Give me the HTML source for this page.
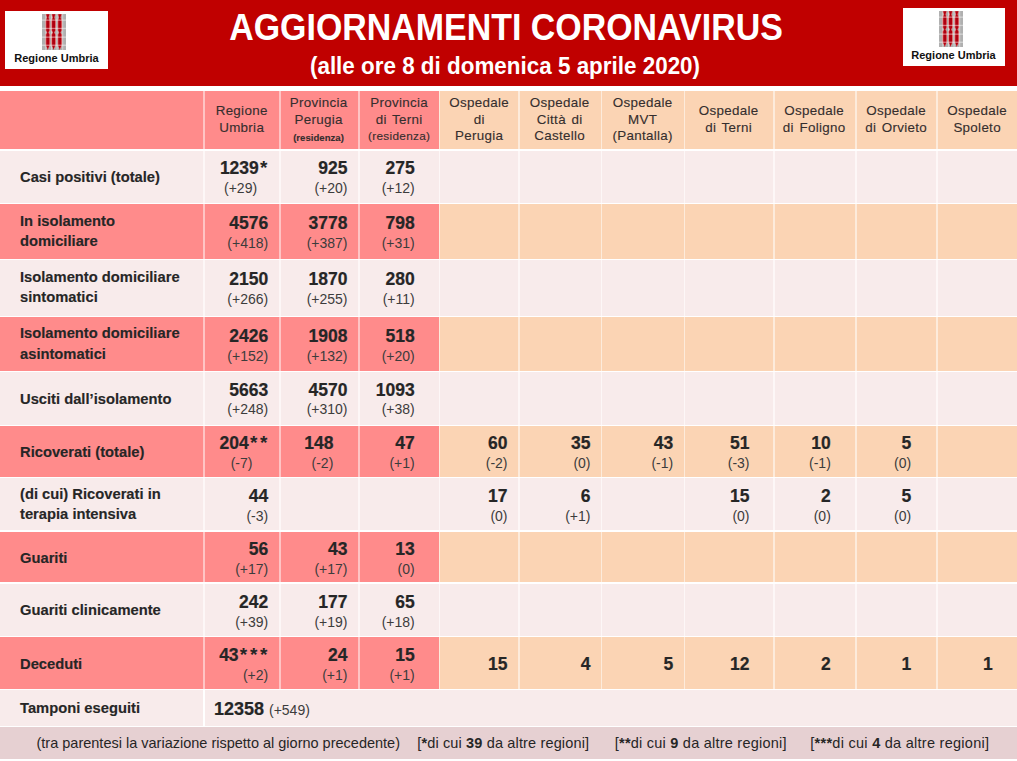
<!DOCTYPE html>
<html><head><meta charset="utf-8"><style>
html,body{margin:0;padding:0;}
body{width:1017px;height:761px;position:relative;overflow:hidden;background:#FFFFFF;font-family:"Liberation Sans",sans-serif;}
.r{position:absolute;}
.t{position:absolute;white-space:nowrap;}
.ast{font-size:21px;letter-spacing:1.6px;position:relative;top:1.5px;}
</style></head><body>
<div class="r" style="left:0px;top:0px;width:1017px;height:86px;background:#C00000"></div>
<div class="r" style="left:5px;top:11px;width:103px;height:58px;background:#FFFFFF"></div>
<svg width="24" height="36" viewBox="0 0 24 36" style="position:absolute;left:42px;top:14px"><rect x="0" y="0" width="24" height="36" fill="#B0B0B0"/><rect x="3.4" y="0" width="0.9" height="36" fill="#D8D8D8"/><rect x="9.1" y="0" width="0.9" height="36" fill="#D8D8D8"/><rect x="14.6" y="0" width="0.9" height="36" fill="#D8D8D8"/><rect x="20.3" y="0" width="0.9" height="36" fill="#D8D8D8"/><path d="M3.5,0.3 L8.1,0.3 L7.0,3.5 L8.1,6 L8.1,16.5 L6.8,18.5 L8.1,20.5 L8.1,31.5 L6.6,34 L5.8,36 L5.0,34 L3.5,31.5 L3.5,20.5 L4.8,18.5 L3.5,16.5 L3.5,6 L4.6,3.5 Z" fill="#E87878"/><path d="M4.3,0.3 L7.3,0.3 L6.3999999999999995,3.5 L7.3,6 L7.3,16.5 L6.3,18.5 L7.3,20.5 L7.3,31.5 L6.3,34 L5.8,36 L5.3,34 L4.3,31.5 L4.3,20.5 L5.3,18.5 L4.3,16.5 L4.3,6 L5.2,3.5 Z" fill="#B00010"/><path d="M9.3,0.3 L13.899999999999999,0.3 L12.799999999999999,3.5 L13.899999999999999,6 L13.899999999999999,16.5 L12.6,18.5 L13.899999999999999,20.5 L13.899999999999999,31.5 L12.4,34 L11.6,36 L10.799999999999999,34 L9.3,31.5 L9.3,20.5 L10.6,18.5 L9.3,16.5 L9.3,6 L10.4,3.5 Z" fill="#E87878"/><path d="M10.1,0.3 L13.1,0.3 L12.2,3.5 L13.1,6 L13.1,16.5 L12.1,18.5 L13.1,20.5 L13.1,31.5 L12.1,34 L11.6,36 L11.1,34 L10.1,31.5 L10.1,20.5 L11.1,18.5 L10.1,16.5 L10.1,6 L11.0,3.5 Z" fill="#B00010"/><path d="M15.5,0.3 L20.1,0.3 L19.0,3.5 L20.1,6 L20.1,16.5 L18.8,18.5 L20.1,20.5 L20.1,31.5 L18.6,34 L17.8,36 L17.0,34 L15.5,31.5 L15.5,20.5 L16.8,18.5 L15.5,16.5 L15.5,6 L16.6,3.5 Z" fill="#E87878"/><path d="M16.3,0.3 L19.3,0.3 L18.400000000000002,3.5 L19.3,6 L19.3,16.5 L18.3,18.5 L19.3,20.5 L19.3,31.5 L18.3,34 L17.8,36 L17.3,34 L16.3,31.5 L16.3,20.5 L17.3,18.5 L16.3,16.5 L16.3,6 L17.2,3.5 Z" fill="#B00010"/><rect x="0" y="5.5" width="24" height="1.3" fill="#FFFFFF" fill-opacity="0.45"/><rect x="0" y="13.8" width="24" height="1.3" fill="#FFFFFF" fill-opacity="0.45"/><rect x="0" y="22.5" width="24" height="1.3" fill="#FFFFFF" fill-opacity="0.45"/><rect x="0" y="30.6" width="24" height="1.3" fill="#FFFFFF" fill-opacity="0.45"/></svg>
<div class="t" style="top:53.19px;font-size:11px;line-height:11px;font-weight:700;color:#111111;left:-443.5px;width:1000px;text-align:center;">Regione Umbria</div>
<div class="r" style="left:903px;top:8px;width:102px;height:58px;background:#FFFFFF"></div>
<svg width="24" height="36" viewBox="0 0 24 36" style="position:absolute;left:939px;top:11px"><rect x="0" y="0" width="24" height="36" fill="#B0B0B0"/><rect x="3.4" y="0" width="0.9" height="36" fill="#D8D8D8"/><rect x="9.1" y="0" width="0.9" height="36" fill="#D8D8D8"/><rect x="14.6" y="0" width="0.9" height="36" fill="#D8D8D8"/><rect x="20.3" y="0" width="0.9" height="36" fill="#D8D8D8"/><path d="M3.5,0.3 L8.1,0.3 L7.0,3.5 L8.1,6 L8.1,16.5 L6.8,18.5 L8.1,20.5 L8.1,31.5 L6.6,34 L5.8,36 L5.0,34 L3.5,31.5 L3.5,20.5 L4.8,18.5 L3.5,16.5 L3.5,6 L4.6,3.5 Z" fill="#E87878"/><path d="M4.3,0.3 L7.3,0.3 L6.3999999999999995,3.5 L7.3,6 L7.3,16.5 L6.3,18.5 L7.3,20.5 L7.3,31.5 L6.3,34 L5.8,36 L5.3,34 L4.3,31.5 L4.3,20.5 L5.3,18.5 L4.3,16.5 L4.3,6 L5.2,3.5 Z" fill="#B00010"/><path d="M9.3,0.3 L13.899999999999999,0.3 L12.799999999999999,3.5 L13.899999999999999,6 L13.899999999999999,16.5 L12.6,18.5 L13.899999999999999,20.5 L13.899999999999999,31.5 L12.4,34 L11.6,36 L10.799999999999999,34 L9.3,31.5 L9.3,20.5 L10.6,18.5 L9.3,16.5 L9.3,6 L10.4,3.5 Z" fill="#E87878"/><path d="M10.1,0.3 L13.1,0.3 L12.2,3.5 L13.1,6 L13.1,16.5 L12.1,18.5 L13.1,20.5 L13.1,31.5 L12.1,34 L11.6,36 L11.1,34 L10.1,31.5 L10.1,20.5 L11.1,18.5 L10.1,16.5 L10.1,6 L11.0,3.5 Z" fill="#B00010"/><path d="M15.5,0.3 L20.1,0.3 L19.0,3.5 L20.1,6 L20.1,16.5 L18.8,18.5 L20.1,20.5 L20.1,31.5 L18.6,34 L17.8,36 L17.0,34 L15.5,31.5 L15.5,20.5 L16.8,18.5 L15.5,16.5 L15.5,6 L16.6,3.5 Z" fill="#E87878"/><path d="M16.3,0.3 L19.3,0.3 L18.400000000000002,3.5 L19.3,6 L19.3,16.5 L18.3,18.5 L19.3,20.5 L19.3,31.5 L18.3,34 L17.8,36 L17.3,34 L16.3,31.5 L16.3,20.5 L17.3,18.5 L16.3,16.5 L16.3,6 L17.2,3.5 Z" fill="#B00010"/><rect x="0" y="5.5" width="24" height="1.3" fill="#FFFFFF" fill-opacity="0.45"/><rect x="0" y="13.8" width="24" height="1.3" fill="#FFFFFF" fill-opacity="0.45"/><rect x="0" y="22.5" width="24" height="1.3" fill="#FFFFFF" fill-opacity="0.45"/><rect x="0" y="30.6" width="24" height="1.3" fill="#FFFFFF" fill-opacity="0.45"/></svg>
<div class="t" style="top:50.19px;font-size:11px;line-height:11px;font-weight:700;color:#111111;left:453.5px;width:1000px;text-align:center;">Regione Umbria</div>
<div class="t" style="top:9.28px;font-size:37px;line-height:37px;font-weight:700;color:#FFFFFF;left:5.5px;width:1000px;text-align:center;transform:scaleX(0.917);transform-origin:50% 0;">AGGIORNAMENTI CORONAVIRUS</div>
<div class="t" style="top:54.73px;font-size:23px;line-height:23px;font-weight:700;color:#FFFFFF;left:4.5px;width:1000px;text-align:center;transform:scaleX(0.975);transform-origin:50% 0;">(alle ore 8 di domenica 5 aprile 2020)</div>
<div class="r" style="left:0px;top:91px;width:203px;height:58px;background:#FF8B8B"></div>
<div class="r" style="left:203px;top:91px;width:2px;height:58px;background:#FFC4C4"></div>
<div class="r" style="left:205px;top:91px;width:74px;height:58px;background:#FF8B8B"></div>
<div class="r" style="left:279px;top:91px;width:2px;height:58px;background:#FFC4C4"></div>
<div class="r" style="left:281px;top:91px;width:77px;height:58px;background:#FF8B8B"></div>
<div class="r" style="left:358px;top:91px;width:2px;height:58px;background:#FFC4C4"></div>
<div class="r" style="left:360px;top:91px;width:79px;height:58px;background:#FF8B8B"></div>
<div class="r" style="left:439px;top:91px;width:1px;height:58px;background:#FDEBDB"></div>
<div class="r" style="left:440px;top:91px;width:78px;height:58px;background:#FBD4B4"></div>
<div class="r" style="left:518px;top:91px;width:2px;height:58px;background:#FDEBDB"></div>
<div class="r" style="left:520px;top:91px;width:81px;height:58px;background:#FBD4B4"></div>
<div class="r" style="left:601px;top:91px;width:1px;height:58px;background:#FDEBDB"></div>
<div class="r" style="left:602px;top:91px;width:82px;height:58px;background:#FBD4B4"></div>
<div class="r" style="left:684px;top:91px;width:1px;height:58px;background:#FDEBDB"></div>
<div class="r" style="left:685px;top:91px;width:88px;height:58px;background:#FBD4B4"></div>
<div class="r" style="left:773px;top:91px;width:2px;height:58px;background:#FDEBDB"></div>
<div class="r" style="left:775px;top:91px;width:80px;height:58px;background:#FBD4B4"></div>
<div class="r" style="left:855px;top:91px;width:2px;height:58px;background:#FDEBDB"></div>
<div class="r" style="left:857px;top:91px;width:79px;height:58px;background:#FBD4B4"></div>
<div class="r" style="left:936px;top:91px;width:2px;height:58px;background:#FDEBDB"></div>
<div class="r" style="left:938px;top:91px;width:79px;height:58px;background:#FBD4B4"></div>
<div class="r" style="left:0px;top:151px;width:203px;height:52px;background:#F8EBEB"></div>
<div class="r" style="left:203px;top:151px;width:2px;height:52px;background:#FDF7F7"></div>
<div class="r" style="left:205px;top:151px;width:74px;height:52px;background:#F8EBEB"></div>
<div class="r" style="left:279px;top:151px;width:2px;height:52px;background:#FDF7F7"></div>
<div class="r" style="left:281px;top:151px;width:77px;height:52px;background:#F8EBEB"></div>
<div class="r" style="left:358px;top:151px;width:2px;height:52px;background:#FDF7F7"></div>
<div class="r" style="left:360px;top:151px;width:79px;height:52px;background:#F8EBEB"></div>
<div class="r" style="left:439px;top:151px;width:1px;height:52px;background:#FDF7F7"></div>
<div class="r" style="left:440px;top:151px;width:78px;height:52px;background:#F8EBEB"></div>
<div class="r" style="left:518px;top:151px;width:2px;height:52px;background:#FDF7F7"></div>
<div class="r" style="left:520px;top:151px;width:81px;height:52px;background:#F8EBEB"></div>
<div class="r" style="left:601px;top:151px;width:1px;height:52px;background:#FDF7F7"></div>
<div class="r" style="left:602px;top:151px;width:82px;height:52px;background:#F8EBEB"></div>
<div class="r" style="left:684px;top:151px;width:1px;height:52px;background:#FDF7F7"></div>
<div class="r" style="left:685px;top:151px;width:88px;height:52px;background:#F8EBEB"></div>
<div class="r" style="left:773px;top:151px;width:2px;height:52px;background:#FDF7F7"></div>
<div class="r" style="left:775px;top:151px;width:80px;height:52px;background:#F8EBEB"></div>
<div class="r" style="left:855px;top:151px;width:2px;height:52px;background:#FDF7F7"></div>
<div class="r" style="left:857px;top:151px;width:79px;height:52px;background:#F8EBEB"></div>
<div class="r" style="left:936px;top:151px;width:2px;height:52px;background:#FDF7F7"></div>
<div class="r" style="left:938px;top:151px;width:79px;height:52px;background:#F8EBEB"></div>
<div class="r" style="left:0px;top:204px;width:203px;height:55px;background:#FF8B8B"></div>
<div class="r" style="left:203px;top:204px;width:2px;height:55px;background:#FFC4C4"></div>
<div class="r" style="left:205px;top:204px;width:74px;height:55px;background:#FF8B8B"></div>
<div class="r" style="left:279px;top:204px;width:2px;height:55px;background:#FFC4C4"></div>
<div class="r" style="left:281px;top:204px;width:77px;height:55px;background:#FF8B8B"></div>
<div class="r" style="left:358px;top:204px;width:2px;height:55px;background:#FFC4C4"></div>
<div class="r" style="left:360px;top:204px;width:79px;height:55px;background:#FF8B8B"></div>
<div class="r" style="left:439px;top:204px;width:1px;height:55px;background:#FDEBDB"></div>
<div class="r" style="left:440px;top:204px;width:78px;height:55px;background:#FBD4B4"></div>
<div class="r" style="left:518px;top:204px;width:2px;height:55px;background:#FDEBDB"></div>
<div class="r" style="left:520px;top:204px;width:81px;height:55px;background:#FBD4B4"></div>
<div class="r" style="left:601px;top:204px;width:1px;height:55px;background:#FDEBDB"></div>
<div class="r" style="left:602px;top:204px;width:82px;height:55px;background:#FBD4B4"></div>
<div class="r" style="left:684px;top:204px;width:1px;height:55px;background:#FDEBDB"></div>
<div class="r" style="left:685px;top:204px;width:88px;height:55px;background:#FBD4B4"></div>
<div class="r" style="left:773px;top:204px;width:2px;height:55px;background:#FDEBDB"></div>
<div class="r" style="left:775px;top:204px;width:80px;height:55px;background:#FBD4B4"></div>
<div class="r" style="left:855px;top:204px;width:2px;height:55px;background:#FDEBDB"></div>
<div class="r" style="left:857px;top:204px;width:79px;height:55px;background:#FBD4B4"></div>
<div class="r" style="left:936px;top:204px;width:2px;height:55px;background:#FDEBDB"></div>
<div class="r" style="left:938px;top:204px;width:79px;height:55px;background:#FBD4B4"></div>
<div class="r" style="left:0px;top:260px;width:203px;height:56px;background:#F8EBEB"></div>
<div class="r" style="left:203px;top:260px;width:2px;height:56px;background:#FDF7F7"></div>
<div class="r" style="left:205px;top:260px;width:74px;height:56px;background:#F8EBEB"></div>
<div class="r" style="left:279px;top:260px;width:2px;height:56px;background:#FDF7F7"></div>
<div class="r" style="left:281px;top:260px;width:77px;height:56px;background:#F8EBEB"></div>
<div class="r" style="left:358px;top:260px;width:2px;height:56px;background:#FDF7F7"></div>
<div class="r" style="left:360px;top:260px;width:79px;height:56px;background:#F8EBEB"></div>
<div class="r" style="left:439px;top:260px;width:1px;height:56px;background:#FDF7F7"></div>
<div class="r" style="left:440px;top:260px;width:78px;height:56px;background:#F8EBEB"></div>
<div class="r" style="left:518px;top:260px;width:2px;height:56px;background:#FDF7F7"></div>
<div class="r" style="left:520px;top:260px;width:81px;height:56px;background:#F8EBEB"></div>
<div class="r" style="left:601px;top:260px;width:1px;height:56px;background:#FDF7F7"></div>
<div class="r" style="left:602px;top:260px;width:82px;height:56px;background:#F8EBEB"></div>
<div class="r" style="left:684px;top:260px;width:1px;height:56px;background:#FDF7F7"></div>
<div class="r" style="left:685px;top:260px;width:88px;height:56px;background:#F8EBEB"></div>
<div class="r" style="left:773px;top:260px;width:2px;height:56px;background:#FDF7F7"></div>
<div class="r" style="left:775px;top:260px;width:80px;height:56px;background:#F8EBEB"></div>
<div class="r" style="left:855px;top:260px;width:2px;height:56px;background:#FDF7F7"></div>
<div class="r" style="left:857px;top:260px;width:79px;height:56px;background:#F8EBEB"></div>
<div class="r" style="left:936px;top:260px;width:2px;height:56px;background:#FDF7F7"></div>
<div class="r" style="left:938px;top:260px;width:79px;height:56px;background:#F8EBEB"></div>
<div class="r" style="left:0px;top:317px;width:203px;height:54px;background:#FF8B8B"></div>
<div class="r" style="left:203px;top:317px;width:2px;height:54px;background:#FFC4C4"></div>
<div class="r" style="left:205px;top:317px;width:74px;height:54px;background:#FF8B8B"></div>
<div class="r" style="left:279px;top:317px;width:2px;height:54px;background:#FFC4C4"></div>
<div class="r" style="left:281px;top:317px;width:77px;height:54px;background:#FF8B8B"></div>
<div class="r" style="left:358px;top:317px;width:2px;height:54px;background:#FFC4C4"></div>
<div class="r" style="left:360px;top:317px;width:79px;height:54px;background:#FF8B8B"></div>
<div class="r" style="left:439px;top:317px;width:1px;height:54px;background:#FDEBDB"></div>
<div class="r" style="left:440px;top:317px;width:78px;height:54px;background:#FBD4B4"></div>
<div class="r" style="left:518px;top:317px;width:2px;height:54px;background:#FDEBDB"></div>
<div class="r" style="left:520px;top:317px;width:81px;height:54px;background:#FBD4B4"></div>
<div class="r" style="left:601px;top:317px;width:1px;height:54px;background:#FDEBDB"></div>
<div class="r" style="left:602px;top:317px;width:82px;height:54px;background:#FBD4B4"></div>
<div class="r" style="left:684px;top:317px;width:1px;height:54px;background:#FDEBDB"></div>
<div class="r" style="left:685px;top:317px;width:88px;height:54px;background:#FBD4B4"></div>
<div class="r" style="left:773px;top:317px;width:2px;height:54px;background:#FDEBDB"></div>
<div class="r" style="left:775px;top:317px;width:80px;height:54px;background:#FBD4B4"></div>
<div class="r" style="left:855px;top:317px;width:2px;height:54px;background:#FDEBDB"></div>
<div class="r" style="left:857px;top:317px;width:79px;height:54px;background:#FBD4B4"></div>
<div class="r" style="left:936px;top:317px;width:2px;height:54px;background:#FDEBDB"></div>
<div class="r" style="left:938px;top:317px;width:79px;height:54px;background:#FBD4B4"></div>
<div class="r" style="left:0px;top:372px;width:203px;height:53px;background:#F8EBEB"></div>
<div class="r" style="left:203px;top:372px;width:2px;height:53px;background:#FDF7F7"></div>
<div class="r" style="left:205px;top:372px;width:74px;height:53px;background:#F8EBEB"></div>
<div class="r" style="left:279px;top:372px;width:2px;height:53px;background:#FDF7F7"></div>
<div class="r" style="left:281px;top:372px;width:77px;height:53px;background:#F8EBEB"></div>
<div class="r" style="left:358px;top:372px;width:2px;height:53px;background:#FDF7F7"></div>
<div class="r" style="left:360px;top:372px;width:79px;height:53px;background:#F8EBEB"></div>
<div class="r" style="left:439px;top:372px;width:1px;height:53px;background:#FDF7F7"></div>
<div class="r" style="left:440px;top:372px;width:78px;height:53px;background:#F8EBEB"></div>
<div class="r" style="left:518px;top:372px;width:2px;height:53px;background:#FDF7F7"></div>
<div class="r" style="left:520px;top:372px;width:81px;height:53px;background:#F8EBEB"></div>
<div class="r" style="left:601px;top:372px;width:1px;height:53px;background:#FDF7F7"></div>
<div class="r" style="left:602px;top:372px;width:82px;height:53px;background:#F8EBEB"></div>
<div class="r" style="left:684px;top:372px;width:1px;height:53px;background:#FDF7F7"></div>
<div class="r" style="left:685px;top:372px;width:88px;height:53px;background:#F8EBEB"></div>
<div class="r" style="left:773px;top:372px;width:2px;height:53px;background:#FDF7F7"></div>
<div class="r" style="left:775px;top:372px;width:80px;height:53px;background:#F8EBEB"></div>
<div class="r" style="left:855px;top:372px;width:2px;height:53px;background:#FDF7F7"></div>
<div class="r" style="left:857px;top:372px;width:79px;height:53px;background:#F8EBEB"></div>
<div class="r" style="left:936px;top:372px;width:2px;height:53px;background:#FDF7F7"></div>
<div class="r" style="left:938px;top:372px;width:79px;height:53px;background:#F8EBEB"></div>
<div class="r" style="left:0px;top:426px;width:203px;height:51px;background:#FF8B8B"></div>
<div class="r" style="left:203px;top:426px;width:2px;height:51px;background:#FFC4C4"></div>
<div class="r" style="left:205px;top:426px;width:74px;height:51px;background:#FF8B8B"></div>
<div class="r" style="left:279px;top:426px;width:2px;height:51px;background:#FFC4C4"></div>
<div class="r" style="left:281px;top:426px;width:77px;height:51px;background:#FF8B8B"></div>
<div class="r" style="left:358px;top:426px;width:2px;height:51px;background:#FFC4C4"></div>
<div class="r" style="left:360px;top:426px;width:79px;height:51px;background:#FF8B8B"></div>
<div class="r" style="left:439px;top:426px;width:1px;height:51px;background:#FDEBDB"></div>
<div class="r" style="left:440px;top:426px;width:78px;height:51px;background:#FBD4B4"></div>
<div class="r" style="left:518px;top:426px;width:2px;height:51px;background:#FDEBDB"></div>
<div class="r" style="left:520px;top:426px;width:81px;height:51px;background:#FBD4B4"></div>
<div class="r" style="left:601px;top:426px;width:1px;height:51px;background:#FDEBDB"></div>
<div class="r" style="left:602px;top:426px;width:82px;height:51px;background:#FBD4B4"></div>
<div class="r" style="left:684px;top:426px;width:1px;height:51px;background:#FDEBDB"></div>
<div class="r" style="left:685px;top:426px;width:88px;height:51px;background:#FBD4B4"></div>
<div class="r" style="left:773px;top:426px;width:2px;height:51px;background:#FDEBDB"></div>
<div class="r" style="left:775px;top:426px;width:80px;height:51px;background:#FBD4B4"></div>
<div class="r" style="left:855px;top:426px;width:2px;height:51px;background:#FDEBDB"></div>
<div class="r" style="left:857px;top:426px;width:79px;height:51px;background:#FBD4B4"></div>
<div class="r" style="left:936px;top:426px;width:2px;height:51px;background:#FDEBDB"></div>
<div class="r" style="left:938px;top:426px;width:79px;height:51px;background:#FBD4B4"></div>
<div class="r" style="left:0px;top:478px;width:203px;height:52px;background:#F8EBEB"></div>
<div class="r" style="left:203px;top:478px;width:2px;height:52px;background:#FDF7F7"></div>
<div class="r" style="left:205px;top:478px;width:74px;height:52px;background:#F8EBEB"></div>
<div class="r" style="left:279px;top:478px;width:2px;height:52px;background:#FDF7F7"></div>
<div class="r" style="left:281px;top:478px;width:77px;height:52px;background:#F8EBEB"></div>
<div class="r" style="left:358px;top:478px;width:2px;height:52px;background:#FDF7F7"></div>
<div class="r" style="left:360px;top:478px;width:79px;height:52px;background:#F8EBEB"></div>
<div class="r" style="left:439px;top:478px;width:1px;height:52px;background:#FDF7F7"></div>
<div class="r" style="left:440px;top:478px;width:78px;height:52px;background:#F8EBEB"></div>
<div class="r" style="left:518px;top:478px;width:2px;height:52px;background:#FDF7F7"></div>
<div class="r" style="left:520px;top:478px;width:81px;height:52px;background:#F8EBEB"></div>
<div class="r" style="left:601px;top:478px;width:1px;height:52px;background:#FDF7F7"></div>
<div class="r" style="left:602px;top:478px;width:82px;height:52px;background:#F8EBEB"></div>
<div class="r" style="left:684px;top:478px;width:1px;height:52px;background:#FDF7F7"></div>
<div class="r" style="left:685px;top:478px;width:88px;height:52px;background:#F8EBEB"></div>
<div class="r" style="left:773px;top:478px;width:2px;height:52px;background:#FDF7F7"></div>
<div class="r" style="left:775px;top:478px;width:80px;height:52px;background:#F8EBEB"></div>
<div class="r" style="left:855px;top:478px;width:2px;height:52px;background:#FDF7F7"></div>
<div class="r" style="left:857px;top:478px;width:79px;height:52px;background:#F8EBEB"></div>
<div class="r" style="left:936px;top:478px;width:2px;height:52px;background:#FDF7F7"></div>
<div class="r" style="left:938px;top:478px;width:79px;height:52px;background:#F8EBEB"></div>
<div class="r" style="left:0px;top:532px;width:203px;height:50px;background:#FF8B8B"></div>
<div class="r" style="left:203px;top:532px;width:2px;height:50px;background:#FFC4C4"></div>
<div class="r" style="left:205px;top:532px;width:74px;height:50px;background:#FF8B8B"></div>
<div class="r" style="left:279px;top:532px;width:2px;height:50px;background:#FFC4C4"></div>
<div class="r" style="left:281px;top:532px;width:77px;height:50px;background:#FF8B8B"></div>
<div class="r" style="left:358px;top:532px;width:2px;height:50px;background:#FFC4C4"></div>
<div class="r" style="left:360px;top:532px;width:79px;height:50px;background:#FF8B8B"></div>
<div class="r" style="left:439px;top:532px;width:1px;height:50px;background:#FDEBDB"></div>
<div class="r" style="left:440px;top:532px;width:78px;height:50px;background:#FBD4B4"></div>
<div class="r" style="left:518px;top:532px;width:2px;height:50px;background:#FDEBDB"></div>
<div class="r" style="left:520px;top:532px;width:81px;height:50px;background:#FBD4B4"></div>
<div class="r" style="left:601px;top:532px;width:1px;height:50px;background:#FDEBDB"></div>
<div class="r" style="left:602px;top:532px;width:82px;height:50px;background:#FBD4B4"></div>
<div class="r" style="left:684px;top:532px;width:1px;height:50px;background:#FDEBDB"></div>
<div class="r" style="left:685px;top:532px;width:88px;height:50px;background:#FBD4B4"></div>
<div class="r" style="left:773px;top:532px;width:2px;height:50px;background:#FDEBDB"></div>
<div class="r" style="left:775px;top:532px;width:80px;height:50px;background:#FBD4B4"></div>
<div class="r" style="left:855px;top:532px;width:2px;height:50px;background:#FDEBDB"></div>
<div class="r" style="left:857px;top:532px;width:79px;height:50px;background:#FBD4B4"></div>
<div class="r" style="left:936px;top:532px;width:2px;height:50px;background:#FDEBDB"></div>
<div class="r" style="left:938px;top:532px;width:79px;height:50px;background:#FBD4B4"></div>
<div class="r" style="left:0px;top:584px;width:203px;height:52px;background:#F8EBEB"></div>
<div class="r" style="left:203px;top:584px;width:2px;height:52px;background:#FDF7F7"></div>
<div class="r" style="left:205px;top:584px;width:74px;height:52px;background:#F8EBEB"></div>
<div class="r" style="left:279px;top:584px;width:2px;height:52px;background:#FDF7F7"></div>
<div class="r" style="left:281px;top:584px;width:77px;height:52px;background:#F8EBEB"></div>
<div class="r" style="left:358px;top:584px;width:2px;height:52px;background:#FDF7F7"></div>
<div class="r" style="left:360px;top:584px;width:79px;height:52px;background:#F8EBEB"></div>
<div class="r" style="left:439px;top:584px;width:1px;height:52px;background:#FDF7F7"></div>
<div class="r" style="left:440px;top:584px;width:78px;height:52px;background:#F8EBEB"></div>
<div class="r" style="left:518px;top:584px;width:2px;height:52px;background:#FDF7F7"></div>
<div class="r" style="left:520px;top:584px;width:81px;height:52px;background:#F8EBEB"></div>
<div class="r" style="left:601px;top:584px;width:1px;height:52px;background:#FDF7F7"></div>
<div class="r" style="left:602px;top:584px;width:82px;height:52px;background:#F8EBEB"></div>
<div class="r" style="left:684px;top:584px;width:1px;height:52px;background:#FDF7F7"></div>
<div class="r" style="left:685px;top:584px;width:88px;height:52px;background:#F8EBEB"></div>
<div class="r" style="left:773px;top:584px;width:2px;height:52px;background:#FDF7F7"></div>
<div class="r" style="left:775px;top:584px;width:80px;height:52px;background:#F8EBEB"></div>
<div class="r" style="left:855px;top:584px;width:2px;height:52px;background:#FDF7F7"></div>
<div class="r" style="left:857px;top:584px;width:79px;height:52px;background:#F8EBEB"></div>
<div class="r" style="left:936px;top:584px;width:2px;height:52px;background:#FDF7F7"></div>
<div class="r" style="left:938px;top:584px;width:79px;height:52px;background:#F8EBEB"></div>
<div class="r" style="left:0px;top:637px;width:203px;height:52px;background:#FF8B8B"></div>
<div class="r" style="left:203px;top:637px;width:2px;height:52px;background:#FFC4C4"></div>
<div class="r" style="left:205px;top:637px;width:74px;height:52px;background:#FF8B8B"></div>
<div class="r" style="left:279px;top:637px;width:2px;height:52px;background:#FFC4C4"></div>
<div class="r" style="left:281px;top:637px;width:77px;height:52px;background:#FF8B8B"></div>
<div class="r" style="left:358px;top:637px;width:2px;height:52px;background:#FFC4C4"></div>
<div class="r" style="left:360px;top:637px;width:79px;height:52px;background:#FF8B8B"></div>
<div class="r" style="left:439px;top:637px;width:1px;height:52px;background:#FDEBDB"></div>
<div class="r" style="left:440px;top:637px;width:78px;height:52px;background:#FBD4B4"></div>
<div class="r" style="left:518px;top:637px;width:2px;height:52px;background:#FDEBDB"></div>
<div class="r" style="left:520px;top:637px;width:81px;height:52px;background:#FBD4B4"></div>
<div class="r" style="left:601px;top:637px;width:1px;height:52px;background:#FDEBDB"></div>
<div class="r" style="left:602px;top:637px;width:82px;height:52px;background:#FBD4B4"></div>
<div class="r" style="left:684px;top:637px;width:1px;height:52px;background:#FDEBDB"></div>
<div class="r" style="left:685px;top:637px;width:88px;height:52px;background:#FBD4B4"></div>
<div class="r" style="left:773px;top:637px;width:2px;height:52px;background:#FDEBDB"></div>
<div class="r" style="left:775px;top:637px;width:80px;height:52px;background:#FBD4B4"></div>
<div class="r" style="left:855px;top:637px;width:2px;height:52px;background:#FDEBDB"></div>
<div class="r" style="left:857px;top:637px;width:79px;height:52px;background:#FBD4B4"></div>
<div class="r" style="left:936px;top:637px;width:2px;height:52px;background:#FDEBDB"></div>
<div class="r" style="left:938px;top:637px;width:79px;height:52px;background:#FBD4B4"></div>
<div class="r" style="left:0px;top:690px;width:203px;height:36px;background:#F8EBEB"></div>
<div class="r" style="left:205px;top:690px;width:812px;height:36px;background:#F8EBEB"></div>
<div class="r" style="left:0px;top:727px;width:1017px;height:32px;background:#E6D0D2"></div>
<div class="t" style="top:104.16px;font-size:13.4px;line-height:13.4px;font-weight:400;color:#352E2E;letter-spacing:0.3px;-webkit-text-stroke:0.12px currentColor;left:-258.35px;width:1000px;text-align:center;word-spacing:1.5px;">Regione</div>
<div class="t" style="top:120.66px;font-size:13.4px;line-height:13.4px;font-weight:400;color:#352E2E;letter-spacing:0.3px;-webkit-text-stroke:0.12px currentColor;left:-258.35px;width:1000px;text-align:center;word-spacing:1.5px;">Umbria</div>
<div class="t" style="top:95.66px;font-size:13.4px;line-height:13.4px;font-weight:400;color:#352E2E;letter-spacing:0.3px;-webkit-text-stroke:0.12px currentColor;left:-181.35000000000002px;width:1000px;text-align:center;word-spacing:1.5px;">Provincia</div>
<div class="t" style="top:113.16px;font-size:13.4px;line-height:13.4px;font-weight:400;color:#352E2E;letter-spacing:0.3px;-webkit-text-stroke:0.12px currentColor;left:-181.35000000000002px;width:1000px;text-align:center;word-spacing:1.5px;">Perugia</div>
<div class="t" style="top:132.87px;font-size:9.6px;line-height:9.6px;font-weight:700;color:#352E2E;letter-spacing:0.0px;-webkit-text-stroke:0.12px currentColor;left:-181.5px;width:1000px;text-align:center;word-spacing:1.5px;">(residenza)</div>
<div class="t" style="top:95.66px;font-size:13.4px;line-height:13.4px;font-weight:400;color:#352E2E;letter-spacing:0.3px;-webkit-text-stroke:0.12px currentColor;left:-100.85000000000002px;width:1000px;text-align:center;word-spacing:1.5px;">Provincia</div>
<div class="t" style="top:112.96px;font-size:13.4px;line-height:13.4px;font-weight:400;color:#352E2E;letter-spacing:0.3px;-webkit-text-stroke:0.12px currentColor;left:-100.85000000000002px;width:1000px;text-align:center;word-spacing:1.5px;">di Terni</div>
<div class="t" style="top:131.01px;font-size:11.8px;line-height:11.8px;font-weight:400;color:#352E2E;letter-spacing:0.3px;-webkit-text-stroke:0.12px currentColor;left:-100.85000000000002px;width:1000px;text-align:center;word-spacing:1.5px;">(residenza)</div>
<div class="t" style="top:95.86px;font-size:13.4px;line-height:13.4px;font-weight:400;color:#352E2E;letter-spacing:0.3px;-webkit-text-stroke:0.12px currentColor;left:-20.850000000000023px;width:1000px;text-align:center;word-spacing:1.5px;">Ospedale</div>
<div class="t" style="top:112.96px;font-size:13.4px;line-height:13.4px;font-weight:400;color:#352E2E;letter-spacing:0.3px;-webkit-text-stroke:0.12px currentColor;left:-20.850000000000023px;width:1000px;text-align:center;word-spacing:1.5px;">di</div>
<div class="t" style="top:129.46px;font-size:13.4px;line-height:13.4px;font-weight:400;color:#352E2E;letter-spacing:0.3px;-webkit-text-stroke:0.12px currentColor;left:-20.850000000000023px;width:1000px;text-align:center;word-spacing:1.5px;">Perugia</div>
<div class="t" style="top:95.86px;font-size:13.4px;line-height:13.4px;font-weight:400;color:#352E2E;letter-spacing:0.3px;-webkit-text-stroke:0.12px currentColor;left:59.64999999999998px;width:1000px;text-align:center;word-spacing:1.5px;">Ospedale</div>
<div class="t" style="top:112.96px;font-size:13.4px;line-height:13.4px;font-weight:400;color:#352E2E;letter-spacing:0.3px;-webkit-text-stroke:0.12px currentColor;left:59.64999999999998px;width:1000px;text-align:center;word-spacing:1.5px;">Città di</div>
<div class="t" style="top:129.46px;font-size:13.4px;line-height:13.4px;font-weight:400;color:#352E2E;letter-spacing:0.3px;-webkit-text-stroke:0.12px currentColor;left:59.64999999999998px;width:1000px;text-align:center;word-spacing:1.5px;">Castello</div>
<div class="t" style="top:95.86px;font-size:13.4px;line-height:13.4px;font-weight:400;color:#352E2E;letter-spacing:0.3px;-webkit-text-stroke:0.12px currentColor;left:142.64999999999998px;width:1000px;text-align:center;word-spacing:1.5px;">Ospedale</div>
<div class="t" style="top:112.96px;font-size:13.4px;line-height:13.4px;font-weight:400;color:#352E2E;letter-spacing:0.3px;-webkit-text-stroke:0.12px currentColor;left:142.64999999999998px;width:1000px;text-align:center;word-spacing:1.5px;">MVT</div>
<div class="t" style="top:129.46px;font-size:13.4px;line-height:13.4px;font-weight:400;color:#352E2E;letter-spacing:0.3px;-webkit-text-stroke:0.12px currentColor;left:142.64999999999998px;width:1000px;text-align:center;word-spacing:1.5px;">(Pantalla)</div>
<div class="t" style="top:103.96px;font-size:13.4px;line-height:13.4px;font-weight:400;color:#352E2E;letter-spacing:0.3px;-webkit-text-stroke:0.12px currentColor;left:228.64999999999998px;width:1000px;text-align:center;word-spacing:1.5px;">Ospedale</div>
<div class="t" style="top:120.56px;font-size:13.4px;line-height:13.4px;font-weight:400;color:#352E2E;letter-spacing:0.3px;-webkit-text-stroke:0.12px currentColor;left:228.64999999999998px;width:1000px;text-align:center;word-spacing:1.5px;">di Terni</div>
<div class="t" style="top:103.96px;font-size:13.4px;line-height:13.4px;font-weight:400;color:#352E2E;letter-spacing:0.3px;-webkit-text-stroke:0.12px currentColor;left:314.15px;width:1000px;text-align:center;word-spacing:1.5px;">Ospedale</div>
<div class="t" style="top:120.56px;font-size:13.4px;line-height:13.4px;font-weight:400;color:#352E2E;letter-spacing:0.3px;-webkit-text-stroke:0.12px currentColor;left:314.15px;width:1000px;text-align:center;word-spacing:1.5px;">di Foligno</div>
<div class="t" style="top:103.96px;font-size:13.4px;line-height:13.4px;font-weight:400;color:#352E2E;letter-spacing:0.3px;-webkit-text-stroke:0.12px currentColor;left:396.15px;width:1000px;text-align:center;word-spacing:1.5px;">Ospedale</div>
<div class="t" style="top:120.56px;font-size:13.4px;line-height:13.4px;font-weight:400;color:#352E2E;letter-spacing:0.3px;-webkit-text-stroke:0.12px currentColor;left:396.15px;width:1000px;text-align:center;word-spacing:1.5px;">di Orvieto</div>
<div class="t" style="top:103.96px;font-size:13.4px;line-height:13.4px;font-weight:400;color:#352E2E;letter-spacing:0.3px;-webkit-text-stroke:0.12px currentColor;left:477.15px;width:1000px;text-align:center;word-spacing:1.5px;">Ospedale</div>
<div class="t" style="top:120.56px;font-size:13.4px;line-height:13.4px;font-weight:400;color:#352E2E;letter-spacing:0.3px;-webkit-text-stroke:0.12px currentColor;left:477.15px;width:1000px;text-align:center;word-spacing:1.5px;">Spoleto</div>
<div class="t" style="top:169.18px;font-size:15.5px;line-height:15.5px;font-weight:700;color:#262626;-webkit-text-stroke:0.15px currentColor;left:19.5px;transform:scaleX(0.95);transform-origin:0 0;">Casi positivi (totale)</div>
<div class="t" style="top:212.88px;font-size:15.5px;line-height:15.5px;font-weight:700;color:#262626;-webkit-text-stroke:0.15px currentColor;left:19.5px;transform:scaleX(0.95);transform-origin:0 0;">In isolamento</div>
<div class="t" style="top:233.38px;font-size:15.5px;line-height:15.5px;font-weight:700;color:#262626;-webkit-text-stroke:0.15px currentColor;left:19.5px;transform:scaleX(0.95);transform-origin:0 0;">domiciliare</div>
<div class="t" style="top:268.68px;font-size:15.5px;line-height:15.5px;font-weight:700;color:#262626;-webkit-text-stroke:0.15px currentColor;left:19.5px;transform:scaleX(0.95);transform-origin:0 0;">Isolamento domiciliare</div>
<div class="t" style="top:288.78px;font-size:15.5px;line-height:15.5px;font-weight:700;color:#262626;-webkit-text-stroke:0.15px currentColor;left:19.5px;transform:scaleX(0.95);transform-origin:0 0;">sintomatici</div>
<div class="t" style="top:325.38px;font-size:15.5px;line-height:15.5px;font-weight:700;color:#262626;-webkit-text-stroke:0.15px currentColor;left:19.5px;transform:scaleX(0.95);transform-origin:0 0;">Isolamento domiciliare</div>
<div class="t" style="top:346.08px;font-size:15.5px;line-height:15.5px;font-weight:700;color:#262626;-webkit-text-stroke:0.15px currentColor;left:19.5px;transform:scaleX(0.95);transform-origin:0 0;">asintomatici</div>
<div class="t" style="top:390.78px;font-size:15.5px;line-height:15.5px;font-weight:700;color:#262626;-webkit-text-stroke:0.15px currentColor;left:19.5px;transform:scaleX(0.95);transform-origin:0 0;">Usciti dall’isolamento</div>
<div class="t" style="top:443.78px;font-size:15.5px;line-height:15.5px;font-weight:700;color:#262626;-webkit-text-stroke:0.15px currentColor;left:19.5px;transform:scaleX(0.95);transform-origin:0 0;">Ricoverati (totale)</div>
<div class="t" style="top:486.08px;font-size:15.5px;line-height:15.5px;font-weight:700;color:#262626;-webkit-text-stroke:0.15px currentColor;left:19.5px;transform:scaleX(0.95);transform-origin:0 0;">(di cui) Ricoverati in</div>
<div class="t" style="top:506.18px;font-size:15.5px;line-height:15.5px;font-weight:700;color:#262626;-webkit-text-stroke:0.15px currentColor;left:19.5px;transform:scaleX(0.95);transform-origin:0 0;">terapia intensiva</div>
<div class="t" style="top:550.08px;font-size:15.5px;line-height:15.5px;font-weight:700;color:#262626;-webkit-text-stroke:0.15px currentColor;left:19.5px;transform:scaleX(0.95);transform-origin:0 0;">Guariti</div>
<div class="t" style="top:602.38px;font-size:15.5px;line-height:15.5px;font-weight:700;color:#262626;-webkit-text-stroke:0.15px currentColor;left:19.5px;transform:scaleX(0.95);transform-origin:0 0;">Guariti clinicamente</div>
<div class="t" style="top:656.08px;font-size:15.5px;line-height:15.5px;font-weight:700;color:#262626;-webkit-text-stroke:0.15px currentColor;left:19.5px;transform:scaleX(0.95);transform-origin:0 0;">Deceduti</div>
<div class="t" style="top:700.28px;font-size:15.5px;line-height:15.5px;font-weight:700;color:#262626;-webkit-text-stroke:0.15px currentColor;left:19.5px;transform:scaleX(0.95);transform-origin:0 0;">Tamponi eseguiti</div>
<div class="t" style="left:260.00px;top:158.20px;font-size:19px;line-height:19px;font-weight:700;color:#262626">*</div>
<div class="t" style="top:160.29px;font-size:17.5px;line-height:17.5px;font-weight:700;color:#262626;-webkit-text-stroke:0.2px currentColor;right:758.2px;">1239</div>
<div class="t" style="top:181.31px;font-size:14px;line-height:14px;font-weight:400;color:#3C3C3C;right:759.9px;">(+29)</div>
<div class="t" style="top:160.29px;font-size:17.5px;line-height:17.5px;font-weight:700;color:#262626;-webkit-text-stroke:0.2px currentColor;right:669.5px;">925</div>
<div class="t" style="top:181.31px;font-size:14px;line-height:14px;font-weight:400;color:#3C3C3C;right:669.5px;">(+20)</div>
<div class="t" style="top:160.29px;font-size:17.5px;line-height:17.5px;font-weight:700;color:#262626;-webkit-text-stroke:0.2px currentColor;right:602.3px;">275</div>
<div class="t" style="top:181.31px;font-size:14px;line-height:14px;font-weight:400;color:#3C3C3C;right:602.3px;">(+12)</div>
<div class="t" style="top:215.39px;font-size:17.5px;line-height:17.5px;font-weight:700;color:#262626;-webkit-text-stroke:0.2px currentColor;right:748.8px;">4576</div>
<div class="t" style="top:236.41px;font-size:14px;line-height:14px;font-weight:400;color:#3C3C3C;right:748.8px;">(+418)</div>
<div class="t" style="top:215.39px;font-size:17.5px;line-height:17.5px;font-weight:700;color:#262626;-webkit-text-stroke:0.2px currentColor;right:669.5px;">3778</div>
<div class="t" style="top:236.41px;font-size:14px;line-height:14px;font-weight:400;color:#3C3C3C;right:669.5px;">(+387)</div>
<div class="t" style="top:215.39px;font-size:17.5px;line-height:17.5px;font-weight:700;color:#262626;-webkit-text-stroke:0.2px currentColor;right:602.3px;">798</div>
<div class="t" style="top:236.41px;font-size:14px;line-height:14px;font-weight:400;color:#3C3C3C;right:602.3px;">(+31)</div>
<div class="t" style="top:271.19px;font-size:17.5px;line-height:17.5px;font-weight:700;color:#262626;-webkit-text-stroke:0.2px currentColor;right:748.8px;">2150</div>
<div class="t" style="top:292.11px;font-size:14px;line-height:14px;font-weight:400;color:#3C3C3C;right:748.8px;">(+266)</div>
<div class="t" style="top:271.19px;font-size:17.5px;line-height:17.5px;font-weight:700;color:#262626;-webkit-text-stroke:0.2px currentColor;right:669.5px;">1870</div>
<div class="t" style="top:292.11px;font-size:14px;line-height:14px;font-weight:400;color:#3C3C3C;right:669.5px;">(+255)</div>
<div class="t" style="top:271.19px;font-size:17.5px;line-height:17.5px;font-weight:700;color:#262626;-webkit-text-stroke:0.2px currentColor;right:602.3px;">280</div>
<div class="t" style="top:292.11px;font-size:14px;line-height:14px;font-weight:400;color:#3C3C3C;right:602.3px;">(+11)</div>
<div class="t" style="top:328.29px;font-size:17.5px;line-height:17.5px;font-weight:700;color:#262626;-webkit-text-stroke:0.2px currentColor;right:748.8px;">2426</div>
<div class="t" style="top:348.71px;font-size:14px;line-height:14px;font-weight:400;color:#3C3C3C;right:748.8px;">(+152)</div>
<div class="t" style="top:328.29px;font-size:17.5px;line-height:17.5px;font-weight:700;color:#262626;-webkit-text-stroke:0.2px currentColor;right:669.5px;">1908</div>
<div class="t" style="top:348.71px;font-size:14px;line-height:14px;font-weight:400;color:#3C3C3C;right:669.5px;">(+132)</div>
<div class="t" style="top:328.29px;font-size:17.5px;line-height:17.5px;font-weight:700;color:#262626;-webkit-text-stroke:0.2px currentColor;right:602.3px;">518</div>
<div class="t" style="top:348.71px;font-size:14px;line-height:14px;font-weight:400;color:#3C3C3C;right:602.3px;">(+20)</div>
<div class="t" style="top:381.79px;font-size:17.5px;line-height:17.5px;font-weight:700;color:#262626;-webkit-text-stroke:0.2px currentColor;right:748.8px;">5663</div>
<div class="t" style="top:402.31px;font-size:14px;line-height:14px;font-weight:400;color:#3C3C3C;right:748.8px;">(+248)</div>
<div class="t" style="top:381.79px;font-size:17.5px;line-height:17.5px;font-weight:700;color:#262626;-webkit-text-stroke:0.2px currentColor;right:669.5px;">4570</div>
<div class="t" style="top:402.31px;font-size:14px;line-height:14px;font-weight:400;color:#3C3C3C;right:669.5px;">(+310)</div>
<div class="t" style="top:381.79px;font-size:17.5px;line-height:17.5px;font-weight:700;color:#262626;-webkit-text-stroke:0.2px currentColor;right:602.3px;">1093</div>
<div class="t" style="top:402.31px;font-size:14px;line-height:14px;font-weight:400;color:#3C3C3C;right:602.3px;">(+38)</div>
<div class="t" style="left:249.90px;top:433.00px;font-size:19px;line-height:19px;font-weight:700;color:#262626">*</div>
<div class="t" style="left:260.00px;top:433.00px;font-size:19px;line-height:19px;font-weight:700;color:#262626">*</div>
<div class="t" style="top:435.09px;font-size:17.5px;line-height:17.5px;font-weight:700;color:#262626;-webkit-text-stroke:0.2px currentColor;right:768.3px;">204</div>
<div class="t" style="top:456.01px;font-size:14px;line-height:14px;font-weight:400;color:#3C3C3C;right:764.6px;">(-7)</div>
<div class="t" style="top:435.09px;font-size:17.5px;line-height:17.5px;font-weight:700;color:#262626;-webkit-text-stroke:0.2px currentColor;right:683.5px;">148</div>
<div class="t" style="top:456.01px;font-size:14px;line-height:14px;font-weight:400;color:#3C3C3C;right:683.7px;">(-2)</div>
<div class="t" style="top:435.09px;font-size:17.5px;line-height:17.5px;font-weight:700;color:#262626;-webkit-text-stroke:0.2px currentColor;right:602.3px;">47</div>
<div class="t" style="top:456.01px;font-size:14px;line-height:14px;font-weight:400;color:#3C3C3C;right:602.3px;">(+1)</div>
<div class="t" style="top:435.09px;font-size:17.5px;line-height:17.5px;font-weight:700;color:#262626;-webkit-text-stroke:0.2px currentColor;right:509.5px;">60</div>
<div class="t" style="top:456.01px;font-size:14px;line-height:14px;font-weight:400;color:#3C3C3C;right:509.5px;">(-2)</div>
<div class="t" style="top:435.09px;font-size:17.5px;line-height:17.5px;font-weight:700;color:#262626;-webkit-text-stroke:0.2px currentColor;right:426.5px;">35</div>
<div class="t" style="top:456.01px;font-size:14px;line-height:14px;font-weight:400;color:#3C3C3C;right:426.5px;">(0)</div>
<div class="t" style="top:435.09px;font-size:17.5px;line-height:17.5px;font-weight:700;color:#262626;-webkit-text-stroke:0.2px currentColor;right:343.79999999999995px;">43</div>
<div class="t" style="top:456.01px;font-size:14px;line-height:14px;font-weight:400;color:#3C3C3C;right:343.79999999999995px;">(-1)</div>
<div class="t" style="top:435.09px;font-size:17.5px;line-height:17.5px;font-weight:700;color:#262626;-webkit-text-stroke:0.2px currentColor;right:267.5px;">51</div>
<div class="t" style="top:456.01px;font-size:14px;line-height:14px;font-weight:400;color:#3C3C3C;right:267.5px;">(-3)</div>
<div class="t" style="top:435.09px;font-size:17.5px;line-height:17.5px;font-weight:700;color:#262626;-webkit-text-stroke:0.2px currentColor;right:186.20000000000005px;">10</div>
<div class="t" style="top:456.01px;font-size:14px;line-height:14px;font-weight:400;color:#3C3C3C;right:186.20000000000005px;">(-1)</div>
<div class="t" style="top:435.09px;font-size:17.5px;line-height:17.5px;font-weight:700;color:#262626;-webkit-text-stroke:0.2px currentColor;right:105.79999999999995px;">5</div>
<div class="t" style="top:456.01px;font-size:14px;line-height:14px;font-weight:400;color:#3C3C3C;right:105.79999999999995px;">(0)</div>
<div class="t" style="top:488.19px;font-size:17.5px;line-height:17.5px;font-weight:700;color:#262626;-webkit-text-stroke:0.2px currentColor;right:748.8px;">44</div>
<div class="t" style="top:508.71px;font-size:14px;line-height:14px;font-weight:400;color:#3C3C3C;right:748.8px;">(-3)</div>
<div class="t" style="top:488.19px;font-size:17.5px;line-height:17.5px;font-weight:700;color:#262626;-webkit-text-stroke:0.2px currentColor;right:509.5px;">17</div>
<div class="t" style="top:508.71px;font-size:14px;line-height:14px;font-weight:400;color:#3C3C3C;right:509.5px;">(0)</div>
<div class="t" style="top:488.19px;font-size:17.5px;line-height:17.5px;font-weight:700;color:#262626;-webkit-text-stroke:0.2px currentColor;right:426.5px;">6</div>
<div class="t" style="top:508.71px;font-size:14px;line-height:14px;font-weight:400;color:#3C3C3C;right:426.5px;">(+1)</div>
<div class="t" style="top:488.19px;font-size:17.5px;line-height:17.5px;font-weight:700;color:#262626;-webkit-text-stroke:0.2px currentColor;right:267.5px;">15</div>
<div class="t" style="top:508.71px;font-size:14px;line-height:14px;font-weight:400;color:#3C3C3C;right:267.5px;">(0)</div>
<div class="t" style="top:488.19px;font-size:17.5px;line-height:17.5px;font-weight:700;color:#262626;-webkit-text-stroke:0.2px currentColor;right:186.20000000000005px;">2</div>
<div class="t" style="top:508.71px;font-size:14px;line-height:14px;font-weight:400;color:#3C3C3C;right:186.20000000000005px;">(0)</div>
<div class="t" style="top:488.19px;font-size:17.5px;line-height:17.5px;font-weight:700;color:#262626;-webkit-text-stroke:0.2px currentColor;right:105.79999999999995px;">5</div>
<div class="t" style="top:508.71px;font-size:14px;line-height:14px;font-weight:400;color:#3C3C3C;right:105.79999999999995px;">(0)</div>
<div class="t" style="top:541.29px;font-size:17.5px;line-height:17.5px;font-weight:700;color:#262626;-webkit-text-stroke:0.2px currentColor;right:748.8px;">56</div>
<div class="t" style="top:561.71px;font-size:14px;line-height:14px;font-weight:400;color:#3C3C3C;right:748.8px;">(+17)</div>
<div class="t" style="top:541.29px;font-size:17.5px;line-height:17.5px;font-weight:700;color:#262626;-webkit-text-stroke:0.2px currentColor;right:669.5px;">43</div>
<div class="t" style="top:561.71px;font-size:14px;line-height:14px;font-weight:400;color:#3C3C3C;right:669.5px;">(+17)</div>
<div class="t" style="top:541.29px;font-size:17.5px;line-height:17.5px;font-weight:700;color:#262626;-webkit-text-stroke:0.2px currentColor;right:602.3px;">13</div>
<div class="t" style="top:561.71px;font-size:14px;line-height:14px;font-weight:400;color:#3C3C3C;right:602.3px;">(0)</div>
<div class="t" style="top:594.29px;font-size:17.5px;line-height:17.5px;font-weight:700;color:#262626;-webkit-text-stroke:0.2px currentColor;right:748.8px;">242</div>
<div class="t" style="top:614.81px;font-size:14px;line-height:14px;font-weight:400;color:#3C3C3C;right:748.8px;">(+39)</div>
<div class="t" style="top:594.29px;font-size:17.5px;line-height:17.5px;font-weight:700;color:#262626;-webkit-text-stroke:0.2px currentColor;right:669.5px;">177</div>
<div class="t" style="top:614.81px;font-size:14px;line-height:14px;font-weight:400;color:#3C3C3C;right:669.5px;">(+19)</div>
<div class="t" style="top:594.29px;font-size:17.5px;line-height:17.5px;font-weight:700;color:#262626;-webkit-text-stroke:0.2px currentColor;right:602.3px;">65</div>
<div class="t" style="top:614.81px;font-size:14px;line-height:14px;font-weight:400;color:#3C3C3C;right:602.3px;">(+18)</div>
<div class="t" style="left:239.80px;top:644.60px;font-size:19px;line-height:19px;font-weight:700;color:#262626">*</div>
<div class="t" style="left:249.90px;top:644.60px;font-size:19px;line-height:19px;font-weight:700;color:#262626">*</div>
<div class="t" style="left:260.00px;top:644.60px;font-size:19px;line-height:19px;font-weight:700;color:#262626">*</div>
<div class="t" style="top:646.69px;font-size:17.5px;line-height:17.5px;font-weight:700;color:#262626;-webkit-text-stroke:0.2px currentColor;right:778.4px;">43</div>
<div class="t" style="top:667.71px;font-size:14px;line-height:14px;font-weight:400;color:#3C3C3C;right:748.8px;">(+2)</div>
<div class="t" style="top:646.69px;font-size:17.5px;line-height:17.5px;font-weight:700;color:#262626;-webkit-text-stroke:0.2px currentColor;right:669.5px;">24</div>
<div class="t" style="top:667.71px;font-size:14px;line-height:14px;font-weight:400;color:#3C3C3C;right:669.5px;">(+1)</div>
<div class="t" style="top:646.69px;font-size:17.5px;line-height:17.5px;font-weight:700;color:#262626;-webkit-text-stroke:0.2px currentColor;right:602.3px;">15</div>
<div class="t" style="top:667.71px;font-size:14px;line-height:14px;font-weight:400;color:#3C3C3C;right:602.3px;">(+1)</div>
<div class="t" style="top:655.99px;font-size:17.5px;line-height:17.5px;font-weight:700;color:#262626;-webkit-text-stroke:0.2px currentColor;right:509.5px;">15</div>
<div class="t" style="top:655.99px;font-size:17.5px;line-height:17.5px;font-weight:700;color:#262626;-webkit-text-stroke:0.2px currentColor;right:426.5px;">4</div>
<div class="t" style="top:655.99px;font-size:17.5px;line-height:17.5px;font-weight:700;color:#262626;-webkit-text-stroke:0.2px currentColor;right:343.79999999999995px;">5</div>
<div class="t" style="top:655.99px;font-size:17.5px;line-height:17.5px;font-weight:700;color:#262626;-webkit-text-stroke:0.2px currentColor;right:267.5px;">12</div>
<div class="t" style="top:655.99px;font-size:17.5px;line-height:17.5px;font-weight:700;color:#262626;-webkit-text-stroke:0.2px currentColor;right:186.20000000000005px;">2</div>
<div class="t" style="top:655.99px;font-size:17.5px;line-height:17.5px;font-weight:700;color:#262626;-webkit-text-stroke:0.2px currentColor;right:105.79999999999995px;">1</div>
<div class="t" style="top:655.99px;font-size:17.5px;line-height:17.5px;font-weight:700;color:#262626;-webkit-text-stroke:0.2px currentColor;right:24.200000000000045px;">1</div>
<div class="t" style="top:699.76px;font-size:18px;line-height:18px;font-weight:700;color:#262626;-webkit-text-stroke:0.2px currentColor;left:214px;">12358</div>
<div class="t" style="top:702.65px;font-size:14px;line-height:14px;font-weight:400;color:#3C3C3C;left:269px;">(+549)</div>
<div class="t" style="top:736.23px;font-size:14.5px;line-height:14.5px;font-weight:400;color:#262626;left:36.5px;">(tra parentesi la variazione rispetto al giorno precedente)</div>
<div class="t" style="top:736.23px;font-size:14.5px;line-height:14.5px;font-weight:400;color:#262626;letter-spacing:0.15px;left:417.2px;">[<b>*</b>di cui <b>39</b> da altre regioni]</div>
<div class="t" style="top:736.23px;font-size:14.5px;line-height:14.5px;font-weight:400;color:#262626;letter-spacing:0.23px;left:614.8px;">[<b>**</b>di cui <b>9</b> da altre regioni]</div>
<div class="t" style="top:736.23px;font-size:14.5px;line-height:14.5px;font-weight:400;color:#262626;letter-spacing:0.27px;left:810.3px;">[<b>***</b>di cui <b>4</b> da altre regioni]</div>
</body></html>
